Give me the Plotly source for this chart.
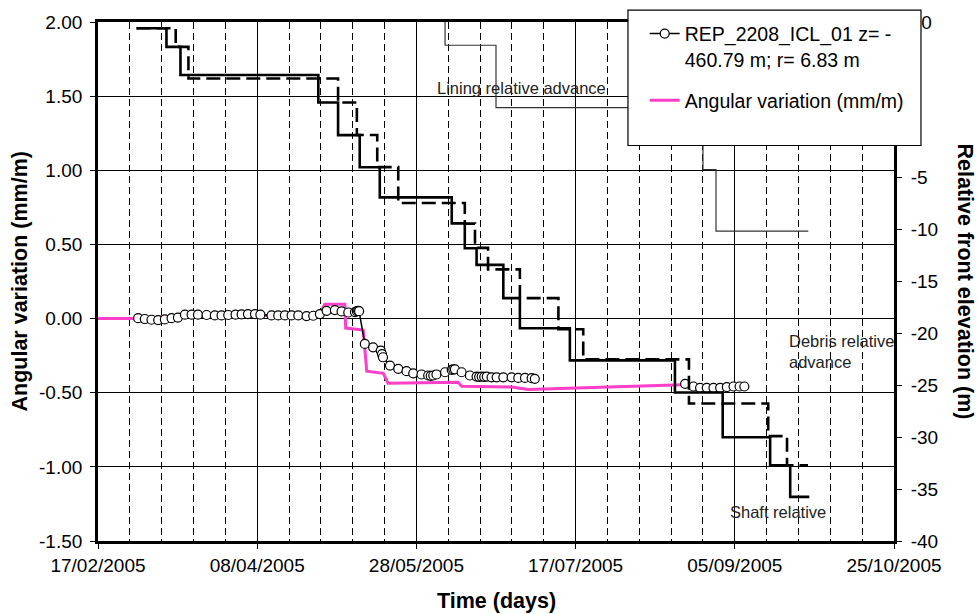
import plotly.graph_objects as go
import pandas as pd

START = "2005-02-17"
END = "2005-10-25"
x_tick_labels = ["17/02/2005", "08/04/2005", "28/05/2005", "17/07/2005", "05/09/2005", "25/10/2005"]
y_tick_values = [-1.5, -1.0, -0.5, 0.0, 0.5, 1.0, 1.5, 2.0]
y_tick_labels = ["-1.50", "-1.00", "-0.50", "0.00", "0.50", "1.00", "1.50", "2.00"]
y2_tick_values = [-40, -35, -30, -25, -20, -15, -10, -5, 0, 5, 10]
y2_tick_labels = ["-40", "-35", "-30", "-25", "-20", "-15", "-10", "-5", "0", "5", "10"]

# ---- right axis: relative front elevation (m); x = days since 17/02/2005 ----
shaft_days = [12.1, 21.5, 25.9, 69.2, 75.4, 82.2, 88.5, 111.1, 115.2, 118.9, 127.3, 132.5,
              148.2, 181.2, 196.2, 211.1, 217.4, 223.4]
shaft_elev = [9.4, 7.6, 4.9, 2.25, -0.9, -4.0, -6.9, -9.4, -11.8, -13.4, -16.6, -19.5,
              -22.6, -25.7, -30.0, -32.7, -35.75, -35.75]

debris_days = [12.1, 24.4, 28.4, 75.4, 81.3, 87.7, 94.3, 115.2, 118.4, 122.5, 132.5, 144.6,
               152.4, 185.6, 210.5, 216.4, 223.0]
debris_elev = [9.4, 7.6, 4.56, 2.25, -0.88, -3.98, -7.44, -9.42, -11.76, -13.83, -16.6, -19.6,
               -22.5, -26.75, -29.9, -32.7, -32.7]

lining_days = [108.9, 109.0, 125.0, 190.0, 194.1, 223.1]
lining_elev = [13.0, 7.76, 1.75, -4.23, -10.15, -10.15]

# ---- left axis: angular variation (mm/m) ----
rep_days_1 = [12.6, 14.7, 16.8, 18.9, 21.0, 23.1, 25.1, 27.3, 29.4, 31.4, 34.1, 36.7, 38.8,
              40.9, 43.2, 45.1, 47.1, 49.3, 51.0, 54.5, 56.6, 58.7, 60.8, 62.9, 65.5, 67.6,
              69.7, 71.8, 74.4, 76.5, 78.6, 80.7, 81.3, 81.7, 82.0, 83.8, 86.4, 88.8, 89.2,
              89.5, 91.7, 94.3, 96.9, 99.0, 101.6, 103.7, 104.5, 105.3, 106.3, 109.0, 111.1,
              111.6, 112.1, 114.2, 116.8, 118.9, 119.7, 120.5, 121.3, 122.1, 123.6, 125.2,
              127.3, 129.9, 132.0, 134.1, 136.2, 137.2]
rep_vals_1 = [0.003, -0.003, -0.008, -0.010, -0.006, 0.003, 0.007, 0.026, 0.026, 0.026, 0.024,
              0.021, 0.021, 0.024, 0.026, 0.028, 0.030, 0.030, 0.026, 0.021, 0.021, 0.021,
              0.021, 0.021, 0.017, 0.019, 0.030, 0.052, 0.057, 0.048, 0.041, 0.044, 0.050,
              0.052, 0.050, -0.171, -0.194, -0.216, -0.240, -0.261, -0.317, -0.339, -0.355,
              -0.369, -0.377, -0.384, -0.386, -0.384, -0.377, -0.362, -0.346, -0.343, -0.342,
              -0.362, -0.384, -0.391, -0.393, -0.391, -0.393, -0.391, -0.396, -0.396, -0.396,
              -0.396, -0.400, -0.400, -0.402, -0.406]
rep_days_2 = [184.4, 187.0, 189.1, 191.2, 193.3, 195.4, 197.5, 199.6, 201.5, 203.0]
rep_vals_2 = [-0.440, -0.458, -0.467, -0.467, -0.467, -0.467, -0.462, -0.458, -0.458, -0.458]

ang_days = [0, 12.5, 27, 69.5, 71.2, 77.5, 77.8, 83.3, 84.4, 89.6, 91.1, 113.1, 114.2,
            129.9, 135.1, 150.3, 181.2, 183.4]
ang_vals = [0, 0, 0.02, 0.02, 0.097, 0.097, -0.064, -0.077, -0.355, -0.369, -0.436, -0.429,
            -0.456, -0.462, -0.478, -0.469, -0.451, -0.447]

base = pd.Timestamp(START)


def to_dates(days):
    return [None if d is None else base + pd.Timedelta(days=d) for d in days]


FONT = "Liberation Sans, Arial, sans-serif"
PINK = "#FF3FC8"

fig = go.Figure()

fig.add_trace(go.Scatter(
    x=to_dates(ang_days), y=ang_vals, mode="lines", name="Angular variation (mm/m)",
    line=dict(color=PINK, width=3), legendrank=2, legendgroup="b"))

fig.add_trace(go.Scatter(
    x=to_dates(rep_days_1 + [None] + rep_days_2), y=rep_vals_1 + [None] + rep_vals_2,
    mode="lines+markers", name="REP_2208_ICL_01 z= -<br>460.79 m; r= 6.83 m",
    line=dict(color="black", width=1.5),
    marker=dict(symbol="circle", size=9, color="white", line=dict(color="black", width=1.2)),
    legendrank=1, legendgroup="a"))

fig.add_trace(go.Scatter(
    x=to_dates(lining_days), y=lining_elev, yaxis="y2", mode="lines", line_shape="hv",
    line=dict(color="#333333", width=1.2), showlegend=False))
fig.add_trace(go.Scatter(
    x=to_dates(shaft_days), y=shaft_elev, yaxis="y2", mode="lines", line_shape="hv",
    line=dict(color="black", width=2.6), showlegend=False))
fig.add_trace(go.Scatter(
    x=to_dates(debris_days), y=debris_elev, yaxis="y2", mode="lines", line_shape="hv",
    line=dict(color="black", width=2.6, dash="14px,6px"), showlegend=False))

tickvals = [pd.Timestamp(pd.to_datetime(t, format="%d/%m/%Y")) for t in x_tick_labels]

fig.update_layout(
    width=977, height=614,
    margin=dict(l=98, r=83, t=20, b=73),
    paper_bgcolor="white", plot_bgcolor="white",
    font=dict(family=FONT, size=19, color="black"),
    showlegend=True,
    xaxis=dict(
        type="date", range=[START, END],
        tickmode="array", tickvals=tickvals, ticktext=x_tick_labels,
        showgrid=True, gridcolor="black", gridwidth=1,
        showline=True, linecolor="black", linewidth=2.8, mirror=True,
        ticks="outside", ticklen=5, tickcolor="black",
        tickfont=dict(size=19),
        minor=dict(tickmode="linear", tick0=START, dtick=10 * 86400000,
                   showgrid=True, gridcolor="black", gridwidth=1, griddash="7px,4px",
                   ticks=""),
        zeroline=False,
    ),
    yaxis=dict(
        range=[-1.5, 2.0], tickmode="array", tickvals=y_tick_values, ticktext=y_tick_labels,
        showgrid=True, gridcolor="black", gridwidth=1,
        showline=True, linecolor="black", linewidth=2.8,
        ticks="outside", ticklen=5, tickcolor="black", ticklabelstandoff=4,
        tickfont=dict(size=19), zeroline=False,
    ),
    yaxis2=dict(
        range=[-40, 10], tickmode="array", tickvals=y2_tick_values, ticktext=y2_tick_labels,
        overlaying="y", side="right",
        showgrid=False, showline=True, linecolor="black", linewidth=2.8,
        ticks="outside", ticklen=5, tickcolor="black", ticklabelstandoff=5,
        tickfont=dict(size=19), zeroline=False,
    ),
    legend=dict(
        x=0.6868, y=1.0146, xanchor="left", yanchor="top",
        bgcolor="rgba(0,0,0,0)", borderwidth=0,
        font=dict(size=19.5, color="black"), valign="top",
        tracegroupgap=13, traceorder="grouped",
    ),
    shapes=[dict(type="rect", xref="paper", yref="paper",
                 x0=0.6658, x1=1.0339, y0=0.762, y1=1.023,
                 line=dict(color="black", width=1.2), fillcolor="white", layer="above")],
    annotations=[
        dict(text="<b>Time (days)</b>", xref="paper", yref="paper", x=0.5, y=-0.115,
             xanchor="center", yanchor="middle", showarrow=False, font=dict(size=21.5)),
        dict(text="<b>Angular variation (mm/m)</b>", xref="paper", yref="paper",
             x=0.0, xshift=-79, y=0.5, textangle=-90, xanchor="center", yanchor="middle",
             showarrow=False, font=dict(size=21.5)),
        dict(text="<b>Relative front elevation (m)</b>", xref="paper", yref="paper",
             x=1.0, xshift=71, y=0.5, textangle=90, xanchor="center", yanchor="middle",
             showarrow=False, font=dict(size=21.5)),
        dict(text="Lining relative advance", xref="paper", yref="paper", x=0.4234, y=0.873,
             xanchor="left", yanchor="middle", showarrow=False,
             font=dict(size=16.5, color="#222222")),
        dict(text="Debris relative<br>advance", xref="paper", yref="paper", x=0.866, y=0.365,
             xanchor="left", yanchor="middle", align="left", showarrow=False,
             font=dict(size=16.5, color="#222222")),
        dict(text="Shaft relative", xref="paper", yref="paper", x=0.792, y=0.0557,
             xanchor="left", yanchor="middle", showarrow=False,
             font=dict(size=16.5, color="#222222")),
    ],
)

fig.write_html("out.html", config={"displayModeBar": False},
               post_script="document.body.style.margin='0px';")
